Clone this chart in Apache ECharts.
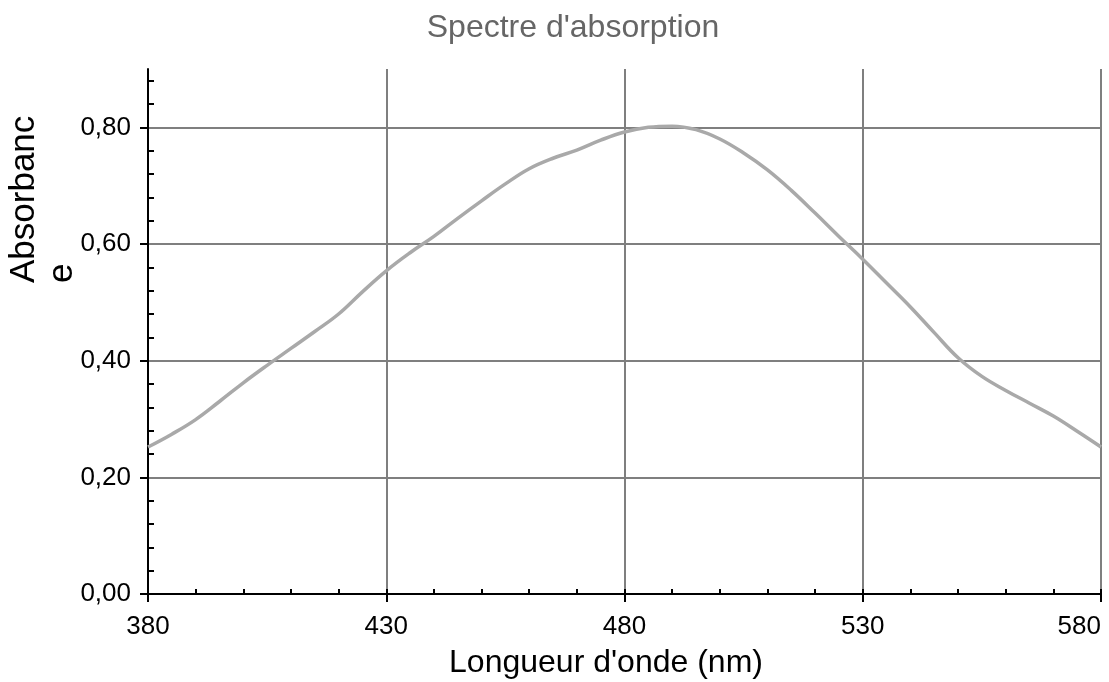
<!DOCTYPE html>
<html>
<head>
<meta charset="utf-8">
<script src="https://cdn.jsdelivr.net/npm/echarts@6/dist/echarts.min.js"></script>
<style>
html,body{margin:0;padding:0;background:#fff;}
#chart{width:1109px;height:682px;}
</style>
</head>
<body>
<div id="chart"></div>
<script>
// ---- Data ----
const wavelengths = [380,385,390,395,400,405,410,415,420,425,430,435,440,445,450,455,460,465,470,475,480,485,490,495,500,505,510,515,520,525,530,535,540,545,550,555,560,565,570,575,580];
const absorbance = [0.252,0.274,0.299,0.330,0.362,0.392,0.421,0.450,0.480,0.518,0.554,0.585,0.613,0.644,0.674,0.703,0.729,0.747,0.761,0.778,0.792,0.800,0.802,0.796,0.780,0.756,0.727,0.692,0.653,0.613,0.574,0.533,0.492,0.448,0.405,0.373,0.349,0.327,0.305,0.279,0.252];
const yMinorTicks = [0.04,0.08,0.12,0.16,0.24,0.28,0.32,0.36,0.44,0.48,0.52,0.56,0.64,0.68,0.72,0.76,0.84,0.88];
const titleText = "Spectre d'absorption";
const xName = "Longueur d'onde (nm)";
const yName = "Absorbanc\ne";

const FONT = '"Liberation Sans", Arial, sans-serif';
const chart = echarts.init(document.getElementById('chart'), null, {renderer: 'canvas'});

const fmt = v => v.toFixed(2).replace('.', ',');

const option = {
  animation: false,
  backgroundColor: '#ffffff',
  grid: {left: 148, right: 8, top: 69, bottom: 88, containLabel: false, outerBoundsMode: 'none'},
  xAxis: [
    {
      type: 'value', min: 380, max: 580, interval: 50, position: 'bottom',
      axisLine: {show: true, onZero: false, lineStyle: {color: '#000', width: 2}},
      axisTick: {show: true, inside: false, length: 8, lineStyle: {color: '#000', width: 2}},
      axisLabel: {show: true, margin: 20, color: '#000', fontSize: 26, fontFamily: FONT, alignMaxLabel: 'right', formatter: v => String(v)},
      splitLine: {show: true, showMinLine: false, showMaxLine: true, lineStyle: {color: '#7f7f7f', width: 2}},
      minorTick: {show: false}
    },
    {
      type: 'value', min: 380, max: 580, interval: 10, position: 'bottom',
      axisLine: {show: false, onZero: false},
      axisTick: {show: true, inside: true, length: 5, lineStyle: {color: '#000', width: 2}},
      axisLabel: {show: false},
      splitLine: {show: false}
    }
  ],
  yAxis: [
    {
      type: 'value', min: 0, max: 0.9, interval: 0.2, position: 'left',
      axisLine: {show: true, onZero: false, lineStyle: {color: '#000', width: 2}},
      axisTick: {show: true, inside: false, length: 8, lineStyle: {color: '#000', width: 2}},
      axisLabel: {show: true, showMaxLabel: false, margin: 17, color: '#000', fontSize: 26, fontFamily: FONT,
        formatter: v => (Math.abs(v - 0.9) < 1e-6 ? '' : fmt(v))},
      splitLine: {show: true, showMinLine: false, showMaxLine: false, lineStyle: {color: '#7f7f7f', width: 2}}
    },
    {
      type: 'value', min: 0, max: 0.9, position: 'left',
      axisLine: {show: false, onZero: false},
      axisTick: {show: true, inside: true, length: 6, customValues: yMinorTicks, lineStyle: {color: '#000', width: 2}},
      axisLabel: {show: false},
      splitLine: {show: false}
    }
  ],
  series: [{
    type: 'line',
    xAxisIndex: 0, yAxisIndex: 0,
    data: wavelengths.map((w, i) => [w, absorbance[i]]),
    smooth: 0.4,
    showSymbol: false,
    lineStyle: {color: '#a9a9a9', width: 3.5},
    z: 5
  }],
  graphic: [
    {type: 'text', x: 573, y: 28, z: 10,
      style: {text: titleText, fill: '#666666', font: '32px ' + FONT, textAlign: 'center', textVerticalAlign: 'middle'}},
    {type: 'text', x: 606, y: 663, z: 10,
      style: {text: xName, fill: '#000', font: '32px ' + FONT, textAlign: 'center', textVerticalAlign: 'middle'}},
    {type: 'text', x: 5, y: 283, rotation: Math.PI / 2, z: 10,
      style: {text: yName, fill: '#000', font: '35px ' + FONT, lineHeight: 38, textAlign: 'left', textVerticalAlign: 'top'}}
  ]
};
chart.setOption(option);
</script>
</body>
</html>
